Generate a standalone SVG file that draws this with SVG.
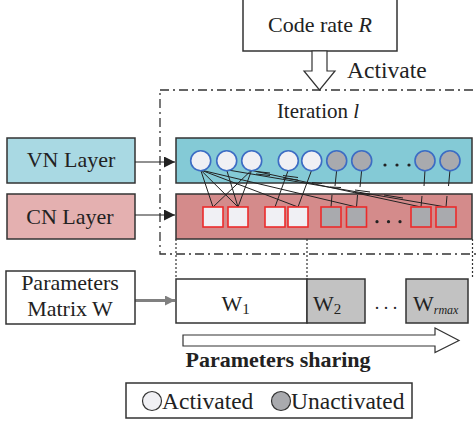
<svg xmlns="http://www.w3.org/2000/svg" width="476" height="431" viewBox="0 0 476 431" font-family="'Liberation Serif','Times New Roman',serif">
<style>
text{font-family:"Liberation Serif","Times New Roman",serif;fill:#222}
.box{stroke:#333;stroke-width:1.5}
.vn{fill:#A9D9E3}
.vnin{fill:#84CAD6}
.cn{fill:#E4B0B0}
.cnin{fill:#D48B8B}
.cw{fill:#F0F0F4;stroke:#3C6CC4;stroke-width:1.6}
.cg{fill:#A9AAAE;stroke:#3C6CC4;stroke-width:1.6}
.sw{fill:#F0F0F4;stroke:#EC2B2B;stroke-width:1.6}
.sg{fill:#A9AAAE;stroke:#EC2B2B;stroke-width:1.6}
.ln{stroke:#222;stroke-width:1;fill:none}
.dot{stroke:#333;stroke-width:1.2;stroke-dasharray:2,2;fill:none}
</style>
<defs>
<marker id="ah" viewBox="0 0 10 10" refX="10" refY="5" markerWidth="11" markerHeight="11" markerUnits="userSpaceOnUse" orient="auto"><path d="M0,0 L10,5 L0,10 z" fill="#222"/></marker>
<marker id="ahg" viewBox="0 0 10 10" refX="10" refY="5" markerWidth="10" markerHeight="10" markerUnits="userSpaceOnUse" orient="auto"><path d="M0,0 L10,5 L0,10 z" fill="#808080"/></marker>
</defs>

<g id="code-rate">
<rect class="box" x="243" y="-2" width="154" height="53" fill="#fff"/>
<text x="320" y="32" font-size="22" text-anchor="middle">Code rate <tspan font-style="italic">R</tspan></text>
</g>

<g id="activate-arrow">
<polygon points="312,51 327,51 327,71 335,71 319.5,90 304,71 312,71" fill="#fff" stroke="#333" stroke-width="1.2"/>
<text x="347" y="78" font-size="23.5">Activate</text>
</g>

<g id="iteration">
<rect x="160" y="90" width="320" height="164" fill="none" stroke="#333" stroke-width="1.3" stroke-dasharray="9,4,2,4"/>
<text x="318" y="118" font-size="21" text-anchor="middle">Iteration <tspan font-style="italic">l</tspan></text>
</g>

<g id="vn-layer">
<rect class="box vn" x="7" y="138" width="128" height="45"/>
<text x="71" y="167" font-size="22" text-anchor="middle">VN Layer</text>
</g>
<g id="cn-layer">
<rect class="box cn" x="7" y="194" width="128" height="45"/>
<text x="70" y="224" font-size="22" text-anchor="middle">CN Layer</text>
</g>

<g id="vn-block">
<rect class="box vnin" x="176" y="138" width="296" height="45"/>
</g>
<g id="cn-block">
<rect class="box cnin" x="176" y="194" width="296" height="45"/>
</g>

<g id="connectors">
<line class="ln" x1="135" y1="162" x2="175" y2="162" stroke-width="1.5" marker-end="url(#ah)"/>
<line class="ln" x1="135" y1="215" x2="175" y2="215" stroke-width="1.5" marker-end="url(#ah)"/>
<line x1="135" y1="300.5" x2="175" y2="300.5" stroke="#808080" stroke-width="3" marker-end="url(#ahg)"/>
<line class="dot" x1="176" y1="239" x2="176" y2="279"/>
<line class="dot" x1="307" y1="239" x2="307" y2="279"/>
<line class="dot" x1="472.5" y1="239" x2="472.5" y2="279"/>
<line class="ln" x1="200.7" y1="170" x2="213" y2="207"/>
<line class="ln" x1="200.7" y1="170" x2="238" y2="207"/>
<line class="ln" x1="200.7" y1="170" x2="298" y2="207" stroke-width="1.4"/>
<line class="ln" x1="200.7" y1="170" x2="356.5" y2="207" stroke-width="1.4"/>
<line class="ln" x1="226.7" y1="170" x2="238" y2="207"/>
<line class="ln" x1="251.7" y1="170" x2="213" y2="207"/>
<line class="ln" x1="251.7" y1="170" x2="238" y2="207"/>
<line class="ln" x1="288.3" y1="170" x2="275" y2="207"/>
<line class="ln" x1="311.7" y1="170" x2="298" y2="207"/>
<line class="ln" x1="228" y1="170" x2="446" y2="207"/>
<line class="ln" x1="252" y1="170.5" x2="421" y2="207"/>
<g class="ln" stroke-width="1.2">
<line x1="256" y1="171.5" x2="270" y2="173"/>
<line x1="256" y1="174" x2="270" y2="175.5"/>
<line x1="283" y1="175.5" x2="298" y2="177.5"/>
<line x1="283" y1="178" x2="298" y2="180"/>
<line x1="312" y1="182.5" x2="322" y2="183.5"/>
<line x1="330" y1="187" x2="341" y2="187.5"/>
<line x1="355" y1="190" x2="370" y2="192"/>
<line x1="355" y1="192.5" x2="370" y2="194.5"/>
<line x1="384" y1="195" x2="403" y2="198"/>
</g>
<line class="ln" x1="336.7" y1="170" x2="335" y2="186"/>
<line class="ln" x1="332" y1="195" x2="331" y2="207"/>
<line class="ln" x1="361.7" y1="170" x2="360" y2="187"/>
<line class="ln" x1="357.5" y1="195" x2="356.5" y2="207"/>
<line class="ln" x1="425" y1="170" x2="424" y2="186"/>
<line class="ln" x1="422" y1="196" x2="421" y2="207"/>
<line class="ln" x1="450" y1="170" x2="448.5" y2="186"/>
<line class="ln" x1="447" y1="196" x2="446" y2="207"/>
</g>

<g id="variable-nodes">
<circle class="cw" cx="200.7" cy="160.7" r="10"/>
<circle class="cw" cx="226.7" cy="160.7" r="10"/>
<circle class="cw" cx="251.7" cy="160.7" r="10"/>
<circle class="cw" cx="288.3" cy="160.7" r="10"/>
<circle class="cw" cx="311.7" cy="160.7" r="10"/>
<circle class="cg" cx="336.7" cy="160.7" r="10"/>
<circle class="cg" cx="361.7" cy="160.7" r="10"/>
<circle class="cg" cx="425" cy="160.7" r="10"/>
<circle class="cg" cx="450" cy="160.7" r="10"/>
<g fill="#222"><circle cx="385" cy="165" r="1.6"/><circle cx="397" cy="165" r="1.6"/><circle cx="409" cy="165" r="1.6"/></g>
</g>

<g id="check-nodes">
<rect class="sw" x="203" y="207" width="20" height="20"/>
<rect class="sw" x="228" y="207" width="20" height="20"/>
<rect class="sw" x="265" y="207" width="20" height="20"/>
<rect class="sw" x="288" y="207" width="20" height="20"/>
<rect class="sg" x="321" y="207" width="20" height="20"/>
<rect class="sg" x="346.5" y="207" width="20" height="20"/>
<rect class="sg" x="411" y="207" width="20" height="20"/>
<rect class="sg" x="436" y="207" width="20" height="20"/>
<g fill="#222"><circle cx="377" cy="221.7" r="1.6"/><circle cx="388.5" cy="221.7" r="1.6"/><circle cx="400" cy="221.7" r="1.6"/></g>
</g>

<g id="params-matrix">
<rect class="box" x="6" y="271" width="129" height="53" fill="#fff"/>
<text x="70" y="290" font-size="22" text-anchor="middle">Parameters</text>
<text x="70" y="316" font-size="22" text-anchor="middle">Matrix W</text>
</g>

<g id="w1">
<rect class="box" x="176" y="279" width="131" height="44" fill="#fff"/>
<text x="221.5" y="311" font-size="22">W<tspan font-size="15" dy="3">1</tspan></text>
</g>
<g id="w2">
<rect class="box" x="307" y="279" width="58" height="44" fill="#C2C2C2"/>
<text x="313" y="311" font-size="22">W<tspan font-size="15" dy="3">2</tspan></text>
</g>
<text x="386" y="309" font-size="18" text-anchor="middle">. . .</text>
<g id="wrmax">
<rect class="box" x="406" y="279" width="62" height="44" fill="#C2C2C2"/>
<text x="413" y="311" font-size="22">W<tspan font-size="12" font-style="italic" dy="3">rmax</tspan></text>
</g>

<g id="sharing-arrow">
<polygon points="183,335 435,335 435,328 459,340.5 435,352.5 435,346 183,346" fill="#fff" stroke="#333" stroke-width="1.2"/>
<text x="278" y="366.5" font-size="22" font-weight="bold" text-anchor="middle">Parameters sharing</text>
</g>

<g id="legend">
<rect class="box" x="126" y="383" width="286" height="35" fill="#fff"/>
<circle cx="152" cy="401" r="9.5" fill="#F0F0F4" stroke="#333" stroke-width="1.2"/>
<text x="162" y="408.5" font-size="23.5">Activated</text>
<circle cx="281" cy="401" r="9.5" fill="#A9AAAE" stroke="#333" stroke-width="1.2"/>
<text x="291" y="408.5" font-size="23.5">Unactivated</text>
</g>
</svg>
